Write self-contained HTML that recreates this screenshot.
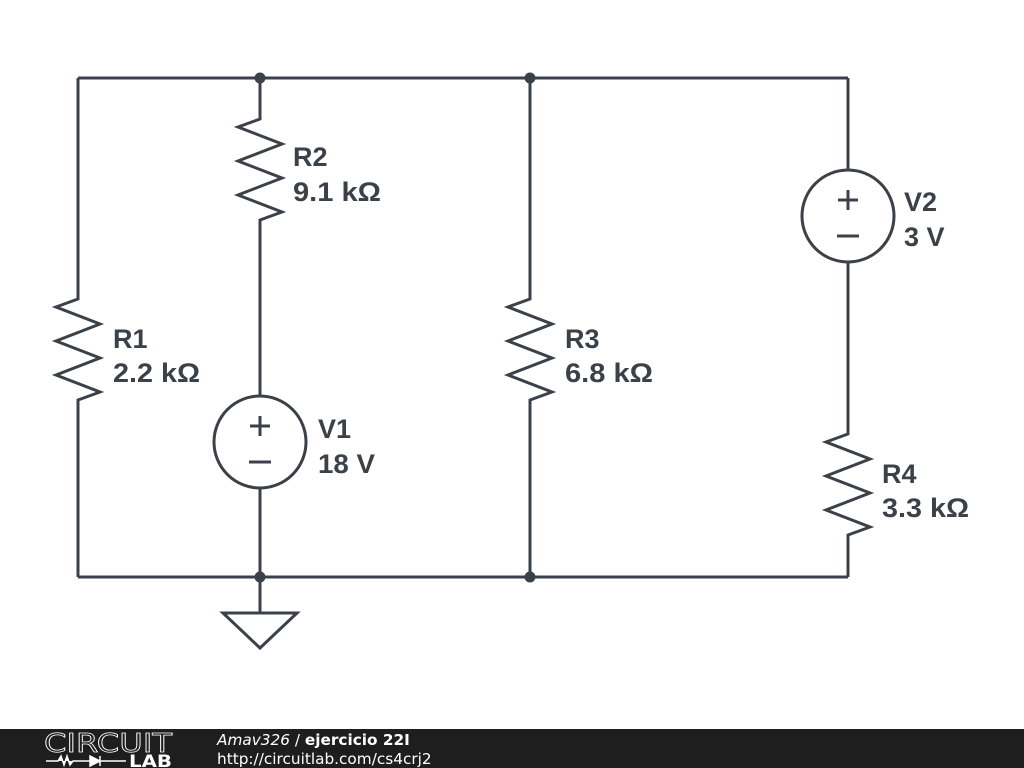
<!DOCTYPE html>
<html><head><meta charset="utf-8"><style>
html,body{margin:0;padding:0;background:#fff;width:1024px;height:768px;overflow:hidden}
</style></head><body>
<svg width="1024" height="768" viewBox="0 0 1024 768" xmlns="http://www.w3.org/2000/svg">
<g fill="none" stroke="#3b4148" stroke-width="3" stroke-linejoin="miter">
<path d="M78 78H848M78 577H848"/>
<path d="M78 78V299L56 307L100 324L56 341L100 358L56 375L100 392L78 400V577"/>
<path d="M260 78V119L238 127L282 144L238 161L282 178L238 195L282 212L260 220V396"/>
<circle cx="260" cy="442" r="46"/>
<path d="M260 488V612"/>
<path d="M250 426H270M260 416V436M249 462H271"/>
<path d="M223 613H297L260 648Z"/>
<path d="M530 78V299L508 307L552 324L508 341L552 358L508 375L552 392L530 400V577"/>
<path d="M848 78V170"/>
<circle cx="848" cy="216" r="46"/>
<path d="M838 200H858M848 190V210M837 236H859"/>
<path d="M848 262V434L826 442L870 459L826 476L870 493L826 510L870 527L848 535V577"/>
</g>
<g fill="#3b4148">
<circle cx="260" cy="78" r="5.5"/><circle cx="530" cy="78" r="5.5"/>
<circle cx="260" cy="577" r="5.5"/><circle cx="530" cy="577" r="5.5"/>
</g>
<g font-family="Liberation Sans, sans-serif" font-weight="bold" font-size="27" fill="#3b4148">
<text x="293" y="166">R2</text><text x="293" y="201" textLength="88" lengthAdjust="spacingAndGlyphs">9.1 kΩ</text>
<text x="113" y="348">R1</text><text x="113" y="382" textLength="87" lengthAdjust="spacingAndGlyphs">2.2 kΩ</text>
<text x="318" y="438">V1</text><text x="318" y="473" textLength="57" lengthAdjust="spacingAndGlyphs">18 V</text>
<text x="565" y="348">R3</text><text x="565" y="382" textLength="88" lengthAdjust="spacingAndGlyphs">6.8 kΩ</text>
<text x="904" y="211">V2</text><text x="904" y="246">3 V</text>
<text x="882" y="483">R4</text><text x="882" y="517" textLength="87" lengthAdjust="spacingAndGlyphs">3.3 kΩ</text>
</g>
<rect x="0" y="729" width="1024" height="39" fill="#1e1e1e"/>
<g fill="#fff" font-family="DejaVu Sans, sans-serif">
<text x="44" y="752" font-size="26" textLength="128" lengthAdjust="spacingAndGlyphs" fill="none" stroke="#fff" stroke-width="0.8">CIRCUIT</text>
<text x="129" y="767" font-size="17" font-weight="bold" textLength="43" lengthAdjust="spacingAndGlyphs">LAB</text>
<text x="217" y="745" font-size="15.3"><tspan font-style="italic">Amav326</tspan> / <tspan font-weight="bold">ejercicio 22I</tspan></text>
<text x="217" y="764" font-size="15.3">http://circuitlab.com/cs4crj2</text>
</g>
<path d="M46 761H58L61 756L64 765L67 756L70 765L73 761H100M100 756V766M90 756L100 761L90 766Z M100 761H126" stroke="#fff" stroke-width="1.5" fill="#fff"/>
</svg>
</body></html>
